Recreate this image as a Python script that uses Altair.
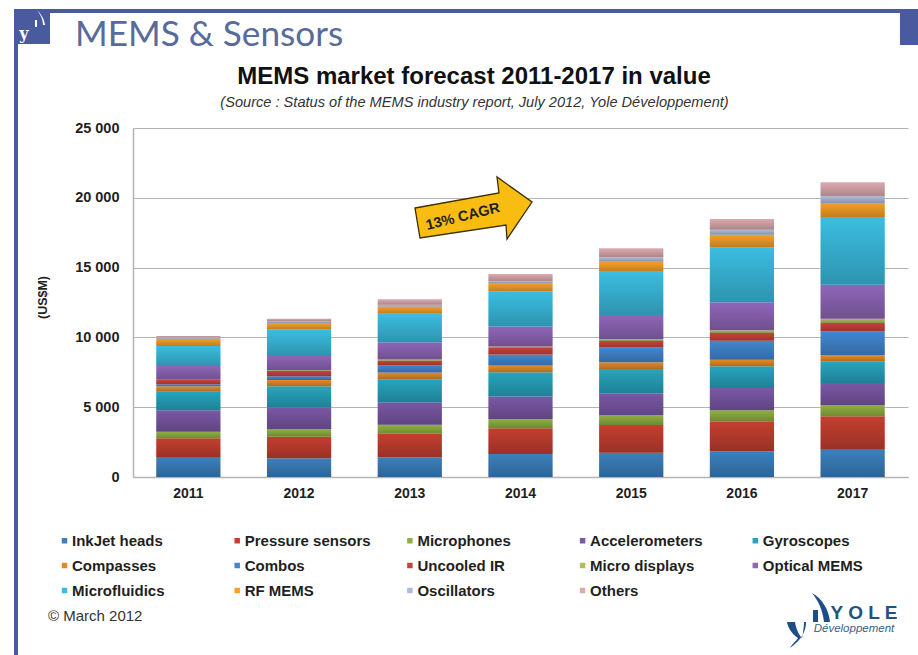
import altair as alt
import pandas as pd

years = ["2011", "2012", "2013", "2014", "2015", "2016", "2017"]
series = ["InkJet heads", "Pressure sensors", "Microphones", "Accelerometers", "Gyroscopes",
          "Compasses", "Combos", "Uncooled IR", "Micro displays", "Optical MEMS",
          "Microfluidics", "RF MEMS", "Oscillators", "Others"]
colors = ["#3b80bd", "#c43f30", "#8faf42", "#7a58a5", "#27a5bf",
          "#e08a2a", "#4287d0", "#c8423c", "#b0bc60", "#8f66b8",
          "#3bbde0", "#f7a027", "#acbcdc", "#dcaab0"]

inkjet = [1385, 1337, 1420, 1650, 1743, 1839, 1958]
pressure = [1385, 1552, 1672, 1839, 1982, 2149, 2388]
microphones = [478, 525, 645, 669, 716, 788, 788]
accelerometers = [1528, 1552, 1624, 1600, 1552, 1600, 1600]
gyroscopes = [1337, 1528, 1648, 1743, 1743, 1552, 1552]
compasses = [380, 454, 478, 478, 478, 478, 430]
combos = [145, 263, 501, 788, 1075, 1361, 1719]
uncooled = [310, 382, 358, 525, 454, 549, 597]
displays = [25, 48, 72, 48, 143, 191, 310]
optical = [980, 1027, 1242, 1433, 1719, 2006, 2436]
microfluidics = [1430, 1910, 2030, 2507, 3104, 3940, 4848]
rf = [525, 454, 525, 621, 716, 907, 1003]
oscillators = [120, 143, 119, 119, 310, 358, 478]
others = [70, 167, 406, 525, 645, 764, 1003]

columns = [inkjet, pressure, microphones, accelerometers, gyroscopes, compasses, combos,
           uncooled, displays, optical, microfluidics, rf, oscillators, others]

rows = [
    {"year": y, "series": s, "idx": i, "value": col[j]}
    for i, (s, col) in enumerate(zip(series, columns))
    for j, y in enumerate(years)
]
table = pd.DataFrame(rows)
one = pd.DataFrame({"n": [0]})

# plot-area origin inside the 918x655 canvas
OX, OY = 133, 128
INK = "#1f1f1f"
FRAME = "#4a5a9e"
SANS = "Liberation Sans"


def caption(text, x, y, **kw):
    kw.setdefault("font", SANS)
    kw.setdefault("color", INK)
    return alt.Chart(one).mark_text(text=text, **kw).encode(
        x=alt.value(x - OX), y=alt.value(y - OY))


def block(x0, y0, x1, y1, color):
    return alt.Chart(one).mark_rect(color=color).encode(
        x=alt.value(x0 - OX), x2=alt.value(x1 - OX),
        y=alt.value(y0 - OY), y2=alt.value(y1 - OY))


def glyph(path, x, y, **kw):
    # size=4 makes one path unit equal one pixel
    return alt.Chart(one).mark_point(shape=path, size=4, filled=True, opacity=1, **kw).encode(
        x=alt.value(x - OX), y=alt.value(y - OY))


x_enc = alt.X("year:N", title=None, sort=years,
              scale=alt.Scale(paddingInner=0.42, paddingOuter=0.21),
              axis=alt.Axis(labelAngle=0, labelFont=SANS, labelFontWeight="bold", labelFontSize=14,
                            labelColor=INK, labelPadding=9, ticks=False, domainColor="#b4b4b4",
                            domainWidth=1.5, grid=False))
y_enc = alt.Y("value:Q", stack="zero", title="(US$M)",
              scale=alt.Scale(domain=[0, 25000], nice=False),
              axis=alt.Axis(values=[0, 5000, 10000, 15000, 20000, 25000],
                            labelExpr="replace(format(datum.value, ','), ',', ' ')",
                            labelFont=SANS, labelFontWeight="bold", labelFontSize=14.5,
                            labelColor=INK, labelPadding=14, ticks=False,
                            domainColor="#b4b4b4", domainWidth=1.5,
                            grid=True, gridColor="#b4b4b4", gridWidth=1.2,
                            titleFont=SANS, titleFontWeight="bold", titleFontSize=12.5,
                            titleColor=INK, titleX=-84, titleY=169))

bars = alt.Chart(table).mark_bar().encode(
    x=x_enc, y=y_enc,
    color=alt.Color("series:N", sort=series,
                    scale=alt.Scale(domain=series, range=colors),
                    legend=alt.Legend(orient="none", legendX=55 - OX, legendY=533 - OY,
                                      columns=5, direction="horizontal", title=None,
                                      symbolType="square", symbolSize=30,
                                      symbolStrokeWidth=0, symbolOffset=2, labelOffset=0,
                                      labelFont=SANS, labelFontWeight="bold", labelFontSize=15,
                                      labelColor=INK, labelLimit=170, columnPadding=29.7,
                                      rowPadding=9, gridAlign="all")),
    order=alt.Order("idx:Q"),
)

# shading laid over each segment: full colour at its top, darker at its foot
sheen = alt.Gradient(gradient="linear", x1=0, x2=0, y1=0, y2=1, stops=[
    alt.GradientStop(offset=0, color="rgba(0,0,0,0)"),
    alt.GradientStop(offset=1, color="rgba(0,0,0,0.22)"),
])
shade = alt.Chart(table).mark_bar(color=sheen).encode(
    x=x_enc, y=y_enc, detail="series:N", order=alt.Order("idx:Q"))

arrow = glyph("M-58,0 L26,-15 L24,-31 L59,-6 L34,31 L33,17 L-53,30 Z", 473, 208,
              fill="#f9bd12", stroke="#3a3000", strokeWidth=1.3)

corner_arc = glyph("M-3,-8 C1,-4 4,0 5,7 L3,7 C3,1 0,-4 -3,-8 Z M-5,2 L-3,2 L-3,9 L-5,9 Z",
                   40, 18, fill="#ffffff")
yole_mark = glyph("M-10,-13 L-2,-13 C-1,-6 2,0 5,3 C6,-3 7,-8 7,-13 L9,-13 C9,-3 4,5 -7,13 "
                  "C-4,8 -1,6 1,3 C-5,-1 -9,-7 -10,-13 Z", 797, 635, fill="#1f4e85")
yole_arc = glyph("M-8,-15 C2,-10 9,2 10,14 L4,14 C3,3 -2,-8 -8,-15 Z", 820, 608, fill="#1f4e85")
yole_bar = block(813, 610, 818, 622, "#1f4e85")

chart = alt.layer(
    bars,
    shade,
    block(14, 9, 918, 13, FRAME),
    block(14, 9, 18, 655, FRAME),
    block(15, 10, 50, 44, FRAME),
    block(900, 9, 918, 45, FRAME),
    caption("y", 24, 34, color="#ffffff", fontSize=16, fontWeight="bold", font="DejaVu Serif"),
    corner_arc,
    caption("MEMS & Sensors", 75, 35, align="left", fontSize=35.2, font="Lato", color="#596a9c"),
    caption("MEMS market forecast 2011-2017 in value", 474, 77, fontSize=24, fontWeight="bold",
            color="#111111"),
    caption("(Source : Status of the MEMS industry report, July 2012, Yole Développement)",
            474.5, 103, fontSize=14.6, fontStyle="italic", color="#333333"),
    arrow,
    caption("13% CAGR", 463, 217, fontSize=14.5, fontWeight="bold", angle=346),
    caption("© March 2012", 48, 616, align="left", fontSize=15, color="#333333"),
    yole_mark,
    yole_arc,
    yole_bar,
    caption("Y O L E", 864, 613, fontSize=19, fontWeight="bold", color="#24527f"),
    caption("Développement", 854, 629, fontSize=11.5, fontStyle="italic", color="#3a5f88"),
).properties(
    width=775, height=349,
    padding={"left": OX, "top": OY, "right": 10, "bottom": 178},
    autosize=alt.AutoSizeParams(type="none"),
    background="#ffffff",
).configure_view(stroke=None)

chart.save("out.html", embed_options={"renderer": "svg", "actions": False})
